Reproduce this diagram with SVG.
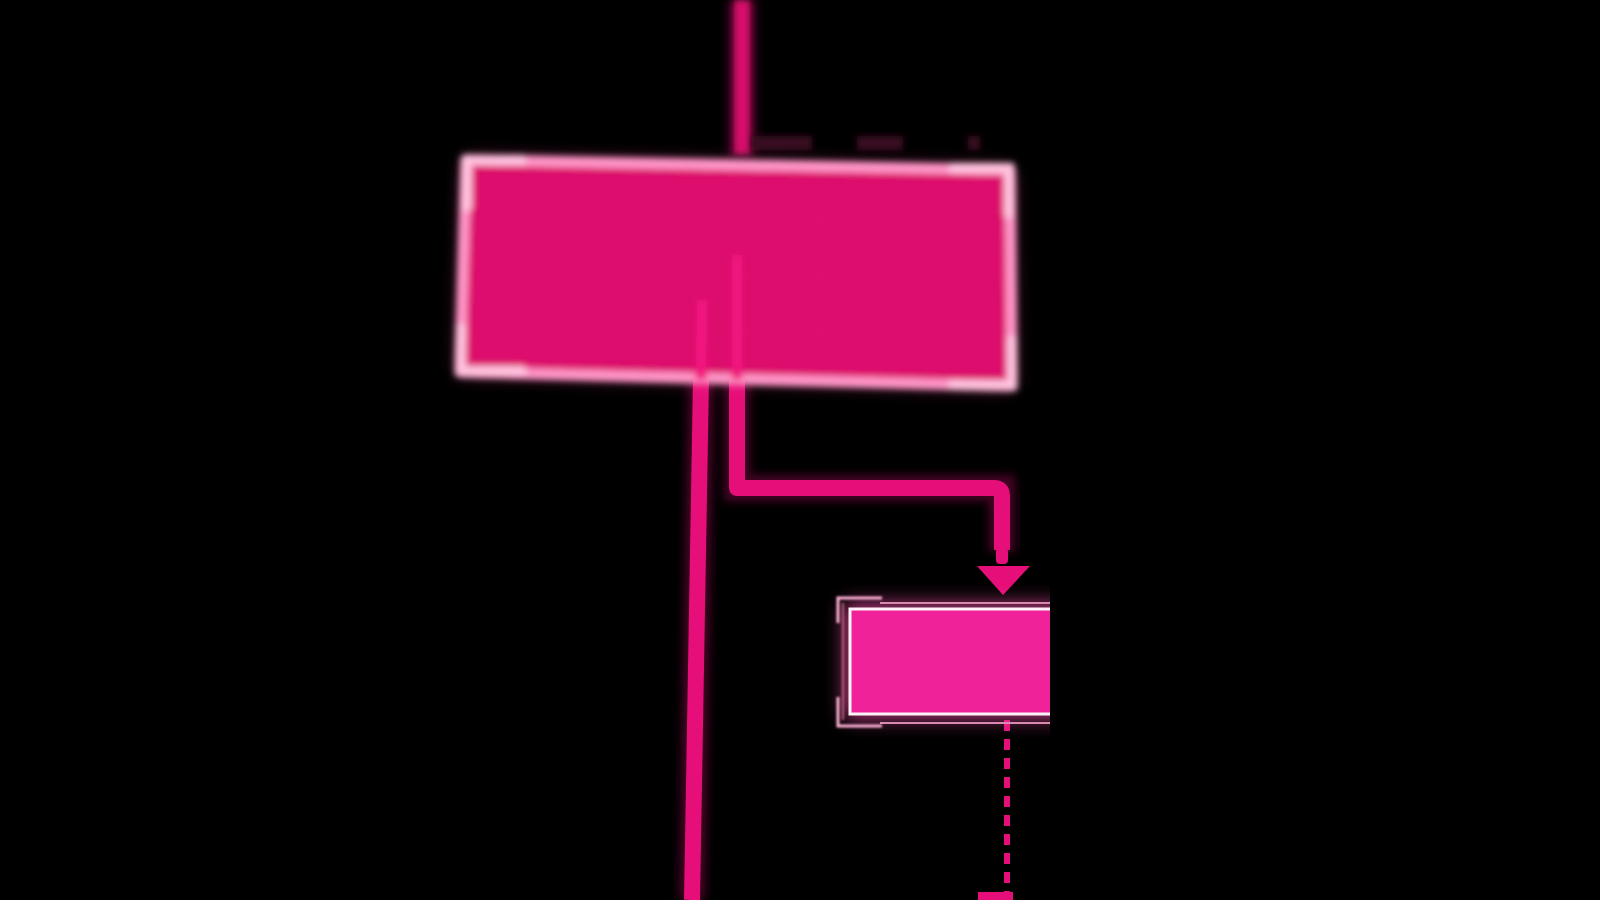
<svg xmlns="http://www.w3.org/2000/svg" width="1600" height="900" viewBox="0 0 1600 900">
  <defs>
    <filter id="glow" x="-30%" y="-30%" width="160%" height="160%">
      <feGaussianBlur stdDeviation="10"/>
    </filter>
    <filter id="soft" x="-20%" y="-20%" width="140%" height="140%">
      <feGaussianBlur stdDeviation="3"/>
    </filter>
    <filter id="lineglow" filterUnits="userSpaceOnUse" x="0" y="0" width="1600" height="900">
      <feGaussianBlur stdDeviation="5"/>
    </filter>
    <filter id="lineblur" filterUnits="userSpaceOnUse" x="0" y="0" width="1600" height="900">
      <feGaussianBlur stdDeviation="3"/>
    </filter>
    <filter id="tiny" x="-50%" y="-50%" width="200%" height="200%">
      <feGaussianBlur stdDeviation="0.8"/>
    </filter>
    <clipPath id="rightcut">
      <rect x="0" y="0" width="1050" height="900"/>
    </clipPath>
    <style>
      .wire{fill:none;stroke:#e60e78;stroke-width:16;stroke-linejoin:round}
      .wireglow{fill:none;stroke:#e80e7a;stroke-width:26;opacity:0.3}
      .grid{stroke:#ff4fa5;stroke-width:3;opacity:0.1}
      .bracket{fill:none;stroke:#ffc3df;stroke-width:10;stroke-linecap:round}
      .sbracket{fill:none;stroke:#ffb0d6;stroke-width:3}
    </style>
  </defs>
  <rect width="1600" height="900" fill="#000"/>

  <g id="connectors">
    <!-- top incoming line -->
    <rect x="728" y="0" width="28" height="156" fill="#e80e7a" opacity="0.3" filter="url(#lineglow)"/>
    <rect x="734" y="0" width="16" height="154" fill="#d70e6b" filter="url(#lineblur)"/>
    <!-- faint marks above main box -->
    <g fill="#3a0820" filter="url(#lineblur)">
      <rect x="752" y="136" width="60" height="14"/>
      <rect x="857" y="136" width="46" height="14"/>
      <rect x="968" y="136" width="12" height="14"/>
    </g>
    <!-- long line going down -->
    <line x1="701" y1="378" x2="692" y2="900" class="wireglow" filter="url(#lineglow)"/>
    <line x1="701" y1="378" x2="692" y2="900" class="wire"/>
    <!-- elbow connector to small box -->
    <path d="M737 378 V488 H1002 V552" class="wireglow" filter="url(#lineglow)"/>
    <path d="M737 378 V488 H994 Q1002 488 1002 496 V550" class="wire"/>
    <rect x="996" y="548" width="12" height="16" rx="4" fill="#e60e78"/>
    <polygon points="977,566 1030,566 1003,595" fill="#e60e78"/>
    <!-- dashed line below small box -->
    <line x1="1007" y1="720" x2="1007" y2="892" stroke="#e60e78" stroke-width="6" stroke-dasharray="11 8"/>
    <rect x="978" y="892" width="35" height="8" fill="#e60e78"/>
  </g>

  <g id="node-main">
    <polygon points="466,160 1010,170 1012,386 460,372" fill="#ff4fa0" opacity="0.55" filter="url(#glow)"/>
    <g filter="url(#soft)">
      <polygon points="466,160 1010,170 1012,386 460,372" fill="#dc0e6c" stroke="#ff95c7" stroke-width="11" stroke-linejoin="round"/>
      <!-- faint grid -->
      <line x1="560" y1="175" x2="558" y2="365" class="grid"/>
      <line x1="640" y1="176" x2="638" y2="366" class="grid"/>
      <line x1="820" y1="178" x2="820" y2="370" class="grid"/>
      <line x1="880" y1="179" x2="880" y2="372" class="grid"/>
      <line x1="935" y1="180" x2="935" y2="373" class="grid"/>
      <line x1="482" y1="270" x2="996" y2="278" class="grid"/>
      <line x1="482" y1="215" x2="996" y2="224" class="grid"/>
      <line x1="482" y1="325" x2="996" y2="334" class="grid"/>
      <!-- line passing through -->
      <line x1="737" y1="255" x2="737" y2="380" stroke="#f2127f" stroke-width="10"/>
      <line x1="702" y1="300" x2="701" y2="380" stroke="#f2127f" stroke-width="11"/>
      <!-- corner brackets -->
      <path d="M522 160 H467 V207" class="bracket"/>
      <path d="M953 168 H1009 V214" class="bracket"/>
      <path d="M461 328 V371 H522" class="bracket"/>
      <path d="M1012 340 V385 H953" class="bracket"/>
    </g>
  </g>

  <g id="node-small" clip-path="url(#rightcut)">
    <rect x="845" y="604" width="260" height="114" fill="#ff4fb0" opacity="0.75" filter="url(#glow)"/>
    <!-- outer thin frame -->
    <line x1="880" y1="603" x2="1060" y2="603" stroke="#d88aae" stroke-width="2"/>
    <line x1="880" y1="723" x2="1060" y2="723" stroke="#d88aae" stroke-width="2"/>
    <g filter="url(#tiny)">
      <path d="M882 598 H838 V623" class="sbracket"/>
      <path d="M838 697 V726 H882" class="sbracket"/>
      <line x1="843" y1="603" x2="843" y2="720" stroke="#c0607f" stroke-width="2"/>
    </g>
    <!-- inner box -->
    <rect x="850" y="609" width="250" height="105" fill="#f0229a" stroke="#fff2f8" stroke-width="3"/>
  </g>
</svg>
